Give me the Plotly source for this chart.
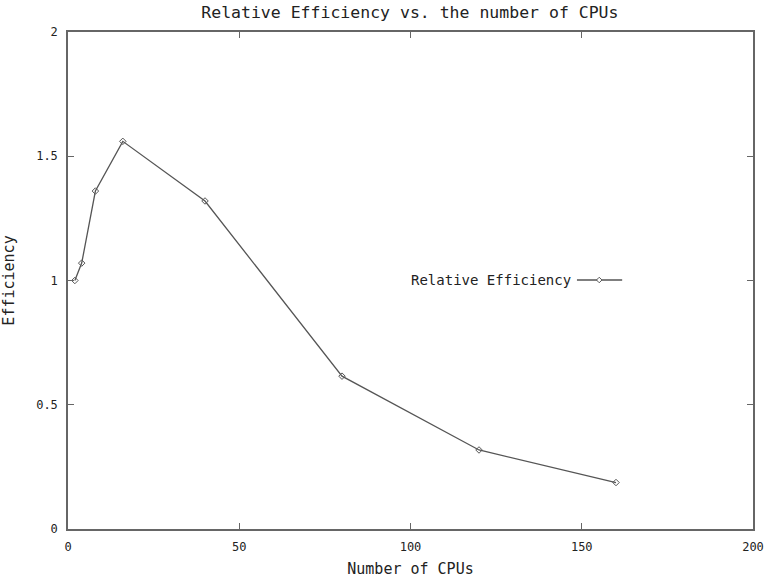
import plotly.graph_objects as go

cpus = [2, 4, 8, 16, 40, 80, 120, 160]
efficiency = [1.0, 1.07, 1.36, 1.56, 1.32, 0.615, 0.318, 0.187]

x_ticks = [0, 50, 100, 150, 200]
y_ticks = [0, 0.5, 1, 1.5, 2]
y_tick_text = ["0", "0.5", "1", "1.5", "2"]

FONT = "DejaVu Sans Mono"
INK = "#222222"
AX = "#666666"

fig = go.Figure()
fig.add_trace(go.Scatter(
    x=cpus, y=efficiency, mode="lines+markers",
    name="Relative Efficiency",
    line=dict(color="#555555", width=1.3),
    marker=dict(symbol="diamond-open", size=5, color="#555555", line=dict(width=1)),
    showlegend=False,
))

axis_common = dict(
    showline=True, linecolor=AX, linewidth=1.5, mirror="ticks",
    ticks="inside", ticklen=6, tickcolor=AX, tickwidth=1,
    showgrid=False, zeroline=False, automargin=False,
    tickfont=dict(family=FONT, size=12, color=INK),
)

fig.update_layout(
    width=764, height=578,
    margin=dict(l=68, r=11, t=32, b=49),
    paper_bgcolor="white", plot_bgcolor="white",
    title=dict(text="Relative Efficiency vs. the number of CPUs",
               x=0.5365, xanchor="center", y=0.978, yanchor="middle",
               font=dict(family=FONT, size=16.5, color=INK)),
    xaxis=dict(range=[0, 200], tickvals=x_ticks, ticktext=[str(v) for v in x_ticks],
               ticklabelstandoff=6,
               title=dict(text="Number of CPUs", font=dict(family=FONT, size=15, color=INK), standoff=14),
               **axis_common),
    yaxis=dict(range=[0, 2], tickvals=y_ticks, ticktext=y_tick_text,
               ticklabelstandoff=6,
               title=dict(text="Efficiency", font=dict(family=FONT, size=15, color=INK), standoff=19),
               **axis_common),
)

# legend (gnuplot style: text then sample to the right)
fig.add_annotation(xref="paper", yref="paper", x=0.737, y=0.501,
                   text="Relative Efficiency", showarrow=False,
                   xanchor="right", yanchor="middle",
                   font=dict(family=FONT, size=14, color=INK))
fig.add_shape(type="line", xref="paper", yref="paper",
              x0=0.743, x1=0.809, y0=0.501, y1=0.501,
              line=dict(color="#555555", width=1.3))
fig.add_shape(type="path", xref="paper", yref="paper",
              path="M 0.7715 0.501 L 0.7755 0.5065 L 0.7795 0.501 L 0.7755 0.4955 Z",
              line=dict(color="#555555", width=1), fillcolor="white")

fig.write_html("out.html")
